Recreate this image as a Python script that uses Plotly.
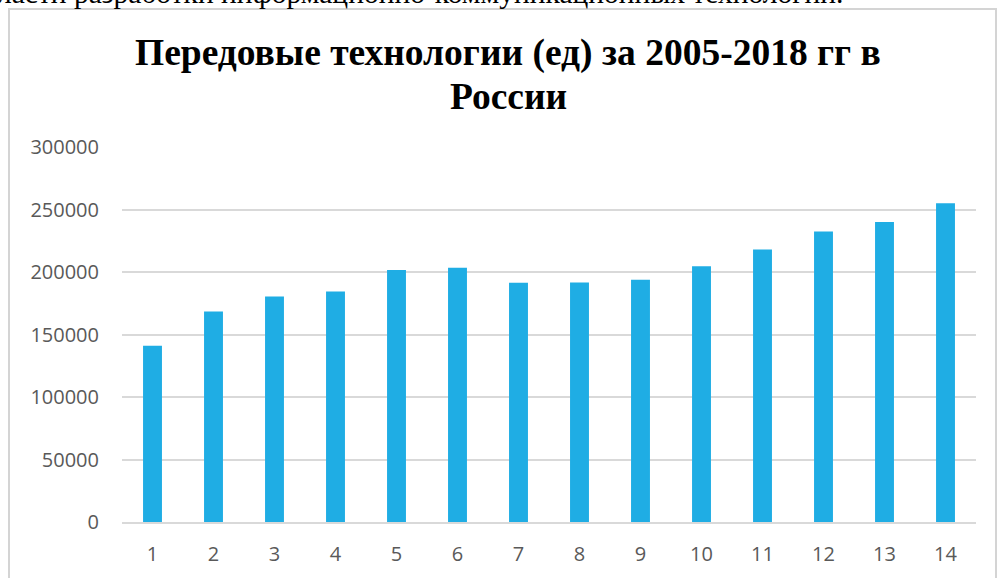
import plotly.graph_objects as go

categories = ["1", "2", "3", "4", "5", "6", "7", "8", "9", "10", "11", "12", "13", "14"]
values = [140983, 168311, 180324, 184374, 201586, 203330, 191372, 191650,
          193830, 204546, 218018, 232388, 240054, 254927]
y_ticks = [0, 50000, 100000, 150000, 200000, 250000, 300000]

title_line1 = "Передовые технологии (ед) за 2005-2018 гг в"
title_line2 = "России"
top_text = "ласти разработки информационно-коммуникационных технологий."

W, H = 998, 578
L, R, T, B = 122, 976, 147, 522

def px(x):
    return (x - L) / (R - L)

def py(y):
    return (B - y) / (B - T)

fig = go.Figure(go.Bar(
    x=categories, y=values,
    marker=dict(color="#1FADE4", line=dict(width=0)),
    width=0.31,
))

fig.update_layout(
    width=W, height=H,
    margin=dict(l=L, r=W - R, t=T, b=H - B, autoexpand=False),
    paper_bgcolor="white", plot_bgcolor="white",
    showlegend=False,
    font=dict(family="Open Sans", color="#595959", size=20),
    xaxis=dict(
        type="category", showgrid=False, showline=True,
        linecolor="#d9d9d9", linewidth=2, automargin=False,
        ticks="", ticklabelstandoff=13,
        tickfont=dict(family="Open Sans", size=20, color="#595959"),
    ),
    yaxis=dict(
        range=[0, 300000], tickvals=y_ticks,
        ticktext=[str(v) for v in y_ticks],
        showgrid=True, gridcolor="#d9d9d9", gridwidth=2, automargin=False,
        zeroline=False, showline=False, ticks="",
        ticklabelstandoff=22,
        tickfont=dict(family="Open Sans", size=20, color="#595959"),
    ),
    shapes=[dict(
        type="rect", xref="paper", yref="paper",
        x0=px(9), x1=px(996), y0=py(600), y1=py(9),
        line=dict(color="#d4d4d4", width=2), fillcolor="rgba(0,0,0,0)",
        layer="below",
    )],
    annotations=[
        dict(
            text="<b>" + title_line1 + "</b>", xref="paper", yref="paper",
            x=px(508), y=py(76), xanchor="center", yanchor="bottom",
            showarrow=False,
            font=dict(family="Liberation Serif", size=37.5, color="black"),
        ),
        dict(
            text="<b>" + title_line2 + "</b>", xref="paper", yref="paper",
            x=px(508), y=py(119), xanchor="center", yanchor="bottom",
            showarrow=False,
            font=dict(family="Liberation Serif", size=37.5, color="black"),
        ),
        dict(
            text=top_text, xref="paper", yref="paper",
            x=px(-5), y=py(11), xanchor="left", yanchor="bottom",
            showarrow=False,
            font=dict(family="Liberation Serif", size=29.5, color="black"),
        ),
    ],
)

fig.write_html(
    "out.html",
    config={"displayModeBar": False},
    post_script="document.body.style.margin='0';document.body.style.padding='0';",
)
